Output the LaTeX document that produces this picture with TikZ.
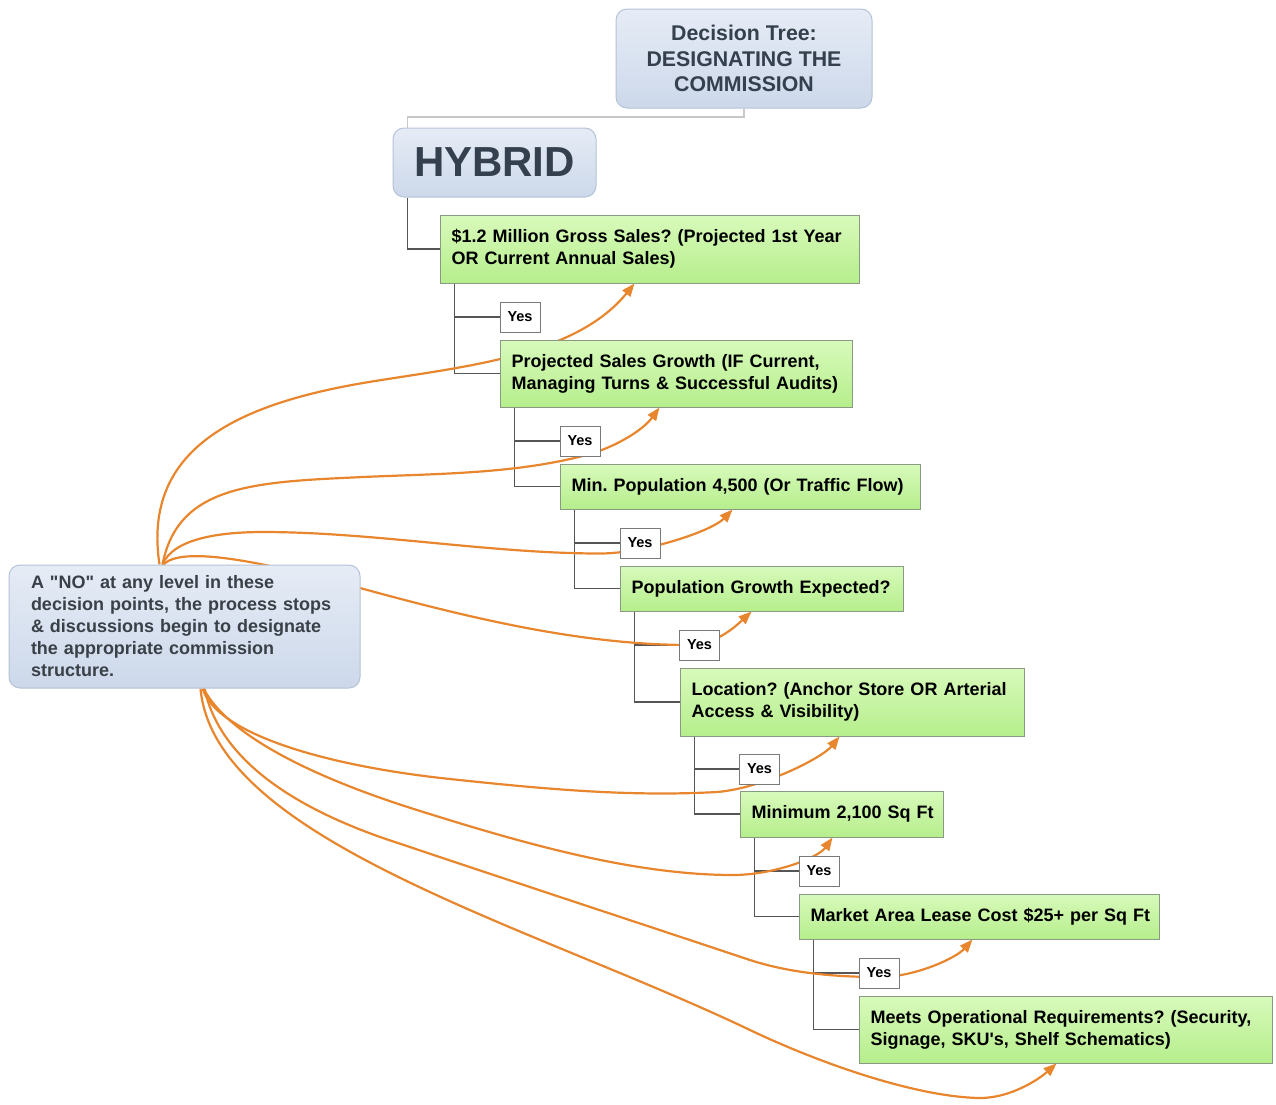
\documentclass[tikz,border=0pt]{standalone}
\usepackage{fontspec}
\setmainfont{Liberation Sans}[Ligatures=TeXOff]
\usetikzlibrary{arrows.meta,calc}
\pgfdeclarelayer{bg}
\pgfsetlayers{bg,main}
\frenchspacing

\definecolor{gtop}{HTML}{D8FABB}
\definecolor{gbot}{HTML}{B6EE8C}
\definecolor{gborder}{HTML}{8A9A82}
\definecolor{btop}{HTML}{E6ECF6}
\definecolor{bbot}{HTML}{CCD8EA}
\definecolor{bborder}{HTML}{B4C3D6}
\definecolor{titletext}{HTML}{34404D}
\definecolor{notext}{HTML}{3A4047}
\definecolor{treeline}{HTML}{555555}
\definecolor{lightline}{HTML}{C8C8C8}
\definecolor{noline}{HTML}{E8862E}
\definecolor{yborder}{HTML}{7A7A7A}

\begin{document}
\begin{tikzpicture}[x=1pt,y=-1pt,
  gbox/.style={draw=gborder, line width=1pt, top color=gtop, bottom color=gbot,
    inner xsep=11.5pt, inner ysep=0pt, align=left, text=black,
    font=\fontsize{18}{22}\selectfont\bfseries},
  bbox/.style={draw=bborder, line width=1pt, top color=btop, bottom color=bbot,
    rounded corners=11pt, inner sep=0pt},
  ybox/.style={draw=yborder, fill=white, line width=0.9pt, minimum width=40pt,
    minimum height=30pt, inner sep=0pt, font=\fontsize{14.5}{16}\selectfont\bfseries},
  tline/.style={draw=treeline, line width=1.3pt},
  nolink/.style={draw=noline, line width=2.2pt, -{Triangle[length=13pt,width=10pt]}}
]
\useasboundingbox (0,0) rectangle (1276,1104);

% header boxes
\node[bbox, minimum width=256pt, minimum height=99pt, align=center, text=titletext,
  font=\fontsize{21.3}{25.5}\selectfont\bfseries] (title) at (744,58.5)
  {Decision Tree:\\DESIGNATING THE\\COMMISSION};
\node[bbox, minimum width=203pt, minimum height=69pt, text=titletext,
  font=\fontsize{42}{48}\selectfont\bfseries] (hyb) at (494.5,162.5) {HYBRID};

% decision points
\node[gbox, text width=396pt, minimum height=68pt] (g1) at (649.5,249)
  {\mbox{\$1.2 Million Gross Sales? (Projected 1st Year}\\\mbox{OR Current Annual Sales)}};
\node[gbox, text width=329pt, minimum height=67pt] (g2) at (676,373.5)
  {\mbox{Projected Sales Growth (IF Current,}\\\mbox{Managing Turns \& Successful Audits)}};
\node[gbox, text width=337pt, minimum height=45pt] (g3) at (740,486.5)
  {\mbox{Min. Population 4,500 (Or Traffic Flow)}};
\node[gbox, text width=260pt, minimum height=45pt] (g4) at (761.5,588.5)
  {\mbox{Population Growth Expected?}};
\node[gbox, text width=321pt, minimum height=68pt] (g5) at (852,702)
  {\mbox{Location? (Anchor Store OR Arterial}\\\mbox{Access \& Visibility)}};
\node[gbox, text width=180pt, minimum height=46pt] (g6) at (841.5,814)
  {\mbox{Minimum 2,100 Sq Ft}};
\node[gbox, text width=337pt, minimum height=45pt] (g7) at (979,916.5)
  {\mbox{Market Area Lease Cost \$25+ per Sq Ft}};
\node[gbox, text width=390pt, minimum height=67pt] (g8) at (1065.5,1029.5)
  {\mbox{Meets Operational Requirements? (Security,}\\\mbox{Signage, SKU's, Shelf Schematics)}};

% answers
\node[ybox] (y1) at (520,317) {Yes};
\node[ybox] (y2) at (580,441) {Yes};
\node[ybox] (y3) at (640,543) {Yes};
\node[ybox] (y4) at (699.5,645) {Yes};
\node[ybox] (y5) at (759.5,769) {Yes};
\node[ybox] (y6) at (819,871) {Yes};
\node[ybox] (y7) at (879,973) {Yes};

% note box
\node[bbox, text width=307pt, inner xsep=22pt, minimum height=123pt, align=left,
  text=notext, font=\fontsize{18}{22}\selectfont\bfseries] (no) at (184.5,626.5)
  {A "NO" at any level in these\\decision points, the process stops\\\& discussions begin to designate\\the appropriate commission\\structure.};

% start and end points of the "no" links
\coordinate (s1) at ([xshift=151pt]no.north west);
\coordinate (s2) at ([xshift=154pt]no.north west);
\coordinate (s3) at ([xshift=154pt]no.north west);
\coordinate (s4) at ([xshift=155pt]no.north west);
\coordinate (b5) at ([xshift=194pt]no.south west);
\coordinate (b6) at ([xshift=195pt]no.south west);
\coordinate (b7) at ([xshift=196pt]no.south west);
\coordinate (b8) at ([xshift=192pt]no.south west);
\coordinate (e1) at ([xshift=195pt]g1.south west);
\coordinate (e2) at ([xshift=160pt]g2.south west);
\coordinate (e3) at ([xshift=173pt]g3.south west);
\coordinate (e4) at ([xshift=132pt]g4.south west);
\coordinate (e5) at ([xshift=160pt]g5.south west);
\coordinate (e6) at ([xshift=93pt]g6.south west);
\coordinate (e7) at ([xshift=174pt]g7.south west);
\coordinate (e8) at ([xshift=198pt]g8.south west);

\begin{pgfonlayer}{bg}
  % tree structure
  \draw[draw=lightline, line width=1.5pt] (title.south) -- ++(0,8.5) -| ([xshift=15pt]hyb.north west);
  \draw[tline] ([xshift=15pt]hyb.south west) |- (g1.west);
  \foreach \g/\y/\n in {g1/y1/g2, g2/y2/g3, g3/y3/g4, g4/y4/g5, g5/y5/g6, g6/y6/g7, g7/y7/g8} {
    \draw[tline] ([xshift=15pt]\g.south west) |- (\y.west);
    \draw[tline] ([xshift=15pt]\g.south west) |- (\n.west);
  }

  % "no" links from the note to each decision point
  \draw[nolink] (s1) .. controls (142,450) and (235,405) .. (363,383)
    .. controls (458,367) and (574,358) .. (e1);
  \draw[nolink] (s2) .. controls (178,485) and (253,482) .. (363,477)
    .. controls (438,473.6) and (518,474) .. (590,454)
    .. controls (617,446) and (643,430) .. (e2);
  \draw[nolink] (s3) .. controls (173,539) and (218,532) .. (263,532)
    .. controls (373,532) and (490,553.5) .. (600,553.5)
    .. controls (645,553.5) and (712,531) .. (e3);
  \draw[nolink] (s4) .. controls (185,542) and (292,570) .. (360,588)
    .. controls (466,617) and (580,645) .. (690,645)
    .. controls (715,645) and (735.5,626.5) .. (e4);
  \draw[nolink] (b5) .. controls (218,735.5) and (330.6,766.4) .. (450,779)
    .. controls (539.6,788.5) and (627,797) .. (717,792)
    .. controls (762,788.4) and (822,758) .. (e5);
  \draw[nolink] (b6) .. controls (231,741) and (331,783) .. (417,810)
    .. controls (522,843) and (633,875) .. (733,875)
    .. controls (773,875) and (818,858) .. (e6);
  \draw[nolink] (b7) .. controls (219,757) and (288.6,805) .. (383,838)
    .. controls (520,884) and (636,922) .. (750,960)
    .. controls (793,974) and (840,977) .. (880,977)
    .. controls (915,977) and (956,958) .. (e7);
  \draw[nolink] (b8) .. controls (214,840) and (530,925) .. (750,1030)
    .. controls (817.7,1062.3) and (915,1097) .. (980,1098)
    .. controls (1010,1098) and (1038,1080) .. (e8);
\end{pgfonlayer}
\end{tikzpicture}
\end{document}
